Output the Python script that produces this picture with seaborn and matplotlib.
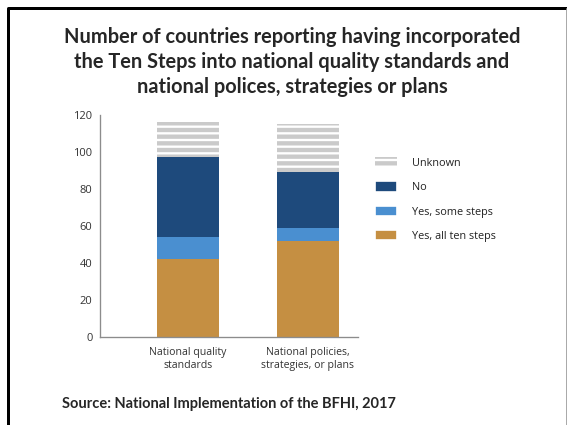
import matplotlib
matplotlib.use("Agg")
import matplotlib.pyplot as plt
import seaborn as sns
import pandas as pd
from matplotlib.patches import Patch
from matplotlib.lines import Line2D

# data
categories = ["National quality\nstandards", "National policies,\nstrategies, or plans"]
yes_all = [42, 52]
yes_some = [12, 7]
no = [43, 30]
unknown = [19, 26]

series = ["Yes, all ten steps", "Yes, some steps", "No", "Unknown"]
colors = ["#C58F42", "#4A8FD0", "#1E4A7C", "#CACACA"]

title = ("Number of countries reporting having incorporated\n"
         "the Ten Steps into national quality standards and\n"
         "national polices, strategies or plans")
source = "Source: National Implementation of the BFHI, 2017"

sns.set_style("white")
plt.rcParams["font.family"] = ["Open Sans", "DejaVu Sans"]
plt.rcParams["hatch.linewidth"] = 2.6

df = pd.DataFrame({"category": categories, "Yes, all ten steps": yes_all,
                   "Yes, some steps": yes_some, "No": no, "Unknown": unknown})
# cumulative totals, drawn from the tallest down so each layer covers the one below
cum = df[series].cumsum(axis=1)
df_cum = pd.concat([df[["category"]], cum], axis=1)

fig = plt.figure(figsize=(567 / 120, 425 / 120), dpi=120)
ax = fig.add_axes([100 / 567, 1 - 336.7 / 425, 258 / 567, 221.7 / 425])

bar_w = 0.52
sns.barplot(data=df_cum, x="category", y="Unknown", color="white", width=bar_w,
            hatch="---", edgecolor=colors[3], linewidth=0, ax=ax, saturation=1)
for s, c in zip(series[2::-1], colors[2::-1]):
    sns.barplot(data=df_cum, x="category", y=s, color=c, width=bar_w,
                linewidth=0, ax=ax, saturation=1)

ax.set_xlim(-0.733, 1.417)
ax.set_ylim(0, 120)
ax.set_yticks(range(0, 121, 20))
ax.set_xlabel("")
ax.set_ylabel("")
sns.despine(ax=ax, top=True, right=True)
for sp in ["left", "bottom"]:
    ax.spines[sp].set_color("#8c8c8c")
    ax.spines[sp].set_linewidth(0.8)
ax.tick_params(axis="y", length=3, width=0.6, color="#8c8c8c", direction="inout",
               labelsize=6.7, labelcolor="#333333", pad=3)
ax.tick_params(axis="x", length=0, labelsize=6.3, labelcolor="#333333", pad=6)
ax.set_xticks([0, 1])
ax.set_xticklabels(categories, linespacing=1.25)

handles = [Patch(facecolor="white", edgecolor=colors[3], linewidth=0, hatch="---"),
           Patch(facecolor=colors[2]), Patch(facecolor=colors[1]), Patch(facecolor=colors[0])]
labels = series[::-1]
ax.legend(handles, labels, loc="upper left", bbox_to_anchor=(375 / 567, 1 - 157 / 425),
          bbox_transform=fig.transFigure, frameon=False, fontsize=6.5,
          borderpad=0, borderaxespad=0, handlelength=2.0, handleheight=1.1,
          handletextpad=1.4, labelspacing=1.15, labelcolor="#222222")

fig.text(292 / 567, 1 - 62 / 425, title, ha="center", va="center", fontsize=12,
         fontweight="bold", family=["Lato", "DejaVu Sans"], linespacing=1.32)
fig.text(62 / 567, 1 - 404 / 425, source, ha="left", va="center", fontsize=8.8,
         fontweight="bold", family=["Lato", "DejaVu Sans"])

# slide frame
fig.add_artist(Line2D([7.5 / 567, 7.5 / 567, 1.0], [0.0, 1 - 7.5 / 425, 1 - 7.5 / 425],
                      transform=fig.transFigure, color="black", linewidth=1.8))
fig.add_artist(Line2D([565.5 / 567, 565.5 / 567], [0.0, 1 - 7.5 / 425],
                      transform=fig.transFigure, color="#9a9a9a", linewidth=0.5))

fig.savefig("out.png", dpi=120)
